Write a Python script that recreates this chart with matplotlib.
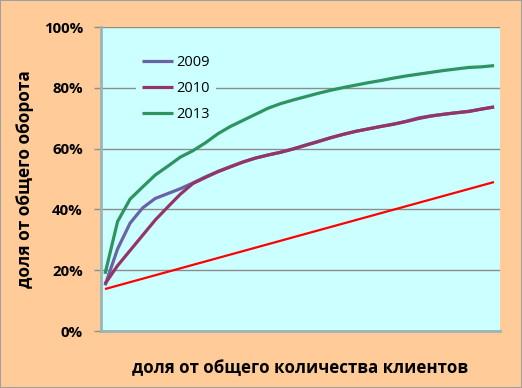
import matplotlib
matplotlib.use('Agg')
import matplotlib.pyplot as plt
from matplotlib.patches import Rectangle

plt.rcParams['font.family'] = ['Open Sans', 'DejaVu Sans']

# shares of turnover (%) at equal steps of client share
y2009 = [15.0, 27.0, 35.5, 40.5, 43.6, 45.2, 46.8, 48.7, 50.7, 52.5, 54.1, 55.6, 56.9, 57.9, 58.8,
         59.9, 61.2, 62.4, 63.6, 64.7, 65.7, 66.5, 67.3, 68.1, 69.0, 70.1, 70.8, 71.3, 71.8, 72.3,
         73.0, 73.7]
y2010 = [15.5, 21.5, 26.5, 31.5, 36.5, 40.8, 45.0, 48.5, 50.5, 52.4, 54.0, 55.6, 56.9, 57.9, 58.8,
         59.9, 61.1, 62.3, 63.6, 64.7, 65.7, 66.5, 67.3, 68.0, 68.9, 69.9, 70.7, 71.3, 71.8, 72.2,
         73.0, 73.7]
y2013 = [18.8, 36.0, 43.4, 47.4, 51.3, 54.2, 57.2, 59.3, 61.9, 64.9, 67.3, 69.3, 71.3, 73.3, 74.8,
         76.0, 77.1, 78.2, 79.2, 80.1, 80.9, 81.7, 82.4, 83.2, 83.9, 84.5, 85.1, 85.7, 86.2, 86.7,
         86.9, 87.3]
even_x = [0, 31]
even_y = [13.8, 49.0]
yticks = [0, 20, 40, 60, 80, 100]

x = list(range(len(y2013)))

fig = plt.figure(figsize=(5.22, 3.88), dpi=100, facecolor='#FFCC99')
fig.patches.append(Rectangle((0, 0), 1, 1, transform=fig.transFigure, fill=False,
                             edgecolor='#A0A0A0', linewidth=1.5))
ax = fig.add_axes([0.1935, 0.1469, 0.7645, 0.7835])
ax.set_facecolor('#CCFFFF')

ax.plot(x, y2009, color='#6A62A6', lw=2.3, label='2009', solid_capstyle='butt')
ax.plot(x, y2010, color='#953468', lw=2.3, label='2010', solid_capstyle='butt')
ax.plot(x, y2013, color='#2E9360', lw=2.3, label='2013', solid_capstyle='butt')
ax.plot(even_x, even_y, color='#FF0000', lw=1.6, solid_capstyle='butt')

ax.set_xlim(-0.32, 31.48)
ax.set_ylim(0, 100)
ax.set_yticks(yticks)
ax.set_yticklabels(['%d%%' % v for v in yticks], fontweight='bold', fontsize=10.8)
ax.set_xticks([])
ax.yaxis.grid(True, color='#8C8C8C', lw=1)
ax.set_axisbelow(True)
ax.tick_params(axis='y', length=5, color='#8C8C8C', width=1, pad=8)
for s in ['top', 'right']:
    ax.spines[s].set_visible(False)
ax.spines['left'].set_color('#9DB4B4')
ax.spines['left'].set_linewidth(2)
ax.spines['bottom'].set_color('#9DB4B4')
ax.spines['bottom'].set_linewidth(2)

ax.set_ylabel('доля от общего оборота', fontweight='bold', fontsize=12.4, labelpad=7)
ax.set_xlabel('доля от общего количества клиентов', fontweight='bold', fontsize=12.2, labelpad=20)

leg = ax.legend(loc='upper left', bbox_to_anchor=(0.07, 0.95), frameon=True, fontsize=10.5,
                handlelength=2.1, handletextpad=0.25, labelspacing=0.75, borderpad=0.4)
leg.get_frame().set_facecolor('#CCFFFF')
leg.get_frame().set_edgecolor('none')
leg.get_frame().set_alpha(1)

plt.savefig('out.png', dpi=100, facecolor=fig.get_facecolor())
